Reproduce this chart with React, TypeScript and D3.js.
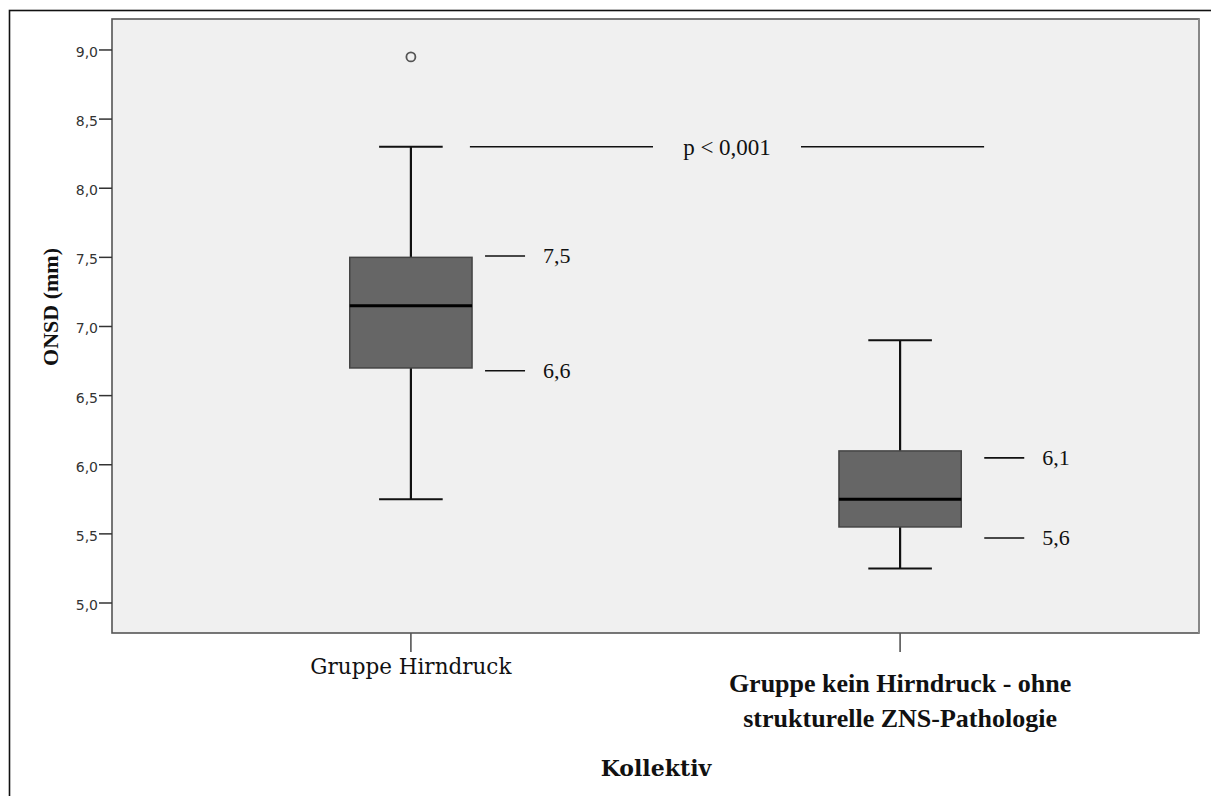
import React from "react";
import * as d3 from "d3";

// Groups compared
const categories = ["Gruppe Hirndruck", "Gruppe kein Hirndruck - ohne strukturelle ZNS-Pathologie"];
const categoryLines = [["Gruppe Hirndruck"], ["Gruppe kein Hirndruck - ohne", "strukturelle ZNS-Pathologie"]];

// Box plot statistics (ONSD in mm)
const whiskerLow = [5.75, 5.25];
const q1 = [6.7, 5.55];
const median = [7.15, 5.75];
const q3 = [7.5, 6.1];
const whiskerHigh = [8.3, 6.9];
const outliers = [[8.95], []];

// Quartile annotations beside each box
const annoLabels = [["7,5", "6,6"], ["6,1", "5,6"]];
const annoValues = [[7.51, 6.68], [6.05, 5.47]];

// Y axis ticks
const yTicks = [5.0, 5.5, 6.0, 6.5, 7.0, 7.5, 8.0, 8.5, 9.0];
const pLabel = "p < 0,001";
const pLevel = 8.3;

const W = 1211;
const H = 796;
const plot = { left: 112, top: 19, right: 1199, bottom: 633 };

export default function App() {
  const y = d3.scaleLinear().domain([4.783, 9.224]).range([plot.bottom, plot.top]);
  const x = d3.scalePoint<string>().domain(categories).range([plot.left, plot.right]).padding(0.611);
  const step = x.step();
  const boxW = step * 0.25;
  const capW = boxW * 0.52;
  const fmt = (v: number) => d3.format(".1f")(v).replace(".", ",");
  const annoShift = [0, 10];

  const x0 = x(categories[0])!;
  const x1 = x(categories[1])!;
  const pStart = x0 + 59;
  const pEnd = x1 + 84;
  const pMid = (pStart + pEnd) / 2;
  const pGap = 74;

  return (
    <svg
      width={W}
      height={H}
      style={{ position: "absolute", left: 0, top: 0, display: "block", background: "#fff" }}
    >
      {/* outer frame */}
      <rect x={9.5} y={10.5} width={W + 20} height={H + 20} fill="none" stroke="#111" strokeWidth={1.6} />

      {/* plot area */}
      <rect
        x={plot.left}
        y={plot.top}
        width={plot.right - plot.left}
        height={plot.bottom - plot.top}
        fill="#f0f0f0"
        stroke="#555"
        strokeWidth={1.6}
      />
      <line x1={plot.right} x2={plot.right} y1={plot.top} y2={plot.bottom} stroke="#888" strokeWidth={2} />

      {/* y axis ticks */}
      {yTicks.map((t) => (
        <g key={t}>
          <line x1={plot.left - 13} x2={plot.left} y1={y(t)} y2={y(t)} stroke="#333" strokeWidth={1.5} />
          <text
            x={plot.left - 14}
            y={y(t) + 7}
            textAnchor="end"
            fontFamily="DejaVu Sans, sans-serif"
            fontSize={14}
            fill="#333"
          >
            {fmt(t)}
          </text>
        </g>
      ))}

      {/* x axis ticks and labels */}
      {categories.map((c, i) => (
        <g key={c}>
          <line x1={x(c)!} x2={x(c)!} y1={plot.bottom} y2={plot.bottom + 19} stroke="#555" strokeWidth={1.6} />
          {categoryLines[i].map((ln, j) => (
            <text
              key={j}
              x={x(c)!}
              y={i === 0 ? 674 : 692 + j * 35}
              textAnchor="middle"
              fontFamily={i === 0 ? "DejaVu Serif, serif" : "Liberation Serif, serif"}
              fontWeight={i === 0 ? "normal" : "bold"}
              fontSize={i === 0 ? 21.5 : 26}
              fill="#111"
            >
              {ln}
            </text>
          ))}
        </g>
      ))}

      {/* axis titles */}
      <text
        x={656}
        y={776}
        textAnchor="middle"
        fontFamily="DejaVu Serif, serif"
        fontWeight="bold"
        fontSize={22}
        fill="#111"
      >
        Kollektiv
      </text>
      <text
        transform={`translate(58, 307) rotate(-90)`}
        textAnchor="middle"
        fontFamily="Liberation Serif, serif"
        fontWeight="bold"
        fontSize={22}
        fill="#111"
      >
        ONSD (mm)
      </text>

      {/* boxes */}
      {categories.map((c, i) => {
        const cx = x(c)!;
        return (
          <g key={c}>
            <line x1={cx} x2={cx} y1={y(whiskerHigh[i])} y2={y(q3[i])} stroke="#111" strokeWidth={2.2} />
            <line x1={cx} x2={cx} y1={y(q1[i])} y2={y(whiskerLow[i])} stroke="#111" strokeWidth={2.2} />
            <line
              x1={cx - capW / 2}
              x2={cx + capW / 2}
              y1={y(whiskerHigh[i])}
              y2={y(whiskerHigh[i])}
              stroke="#111"
              strokeWidth={2}
            />
            <line
              x1={cx - capW / 2}
              x2={cx + capW / 2}
              y1={y(whiskerLow[i])}
              y2={y(whiskerLow[i])}
              stroke="#111"
              strokeWidth={2}
            />
            <rect
              x={cx - boxW / 2}
              y={y(q3[i])}
              width={boxW}
              height={y(q1[i]) - y(q3[i])}
              fill="#666"
              stroke="#444"
              strokeWidth={1.5}
            />
            <line
              x1={cx - boxW / 2}
              x2={cx + boxW / 2}
              y1={y(median[i])}
              y2={y(median[i])}
              stroke="#000"
              strokeWidth={3}
            />
            {outliers[i].map((o, k) => (
              <circle key={k} cx={cx} cy={y(o)} r={4.5} fill="#f0f0f0" stroke="#555" strokeWidth={1.8} />
            ))}
            {annoLabels[i].map((lab, k) => {
              const ay = y(annoValues[i][k]);
              const lx = cx + boxW / 2 + 13 + annoShift[i];
              return (
                <g key={lab}>
                  <line x1={lx} x2={lx + 40} y1={ay} y2={ay} stroke="#111" strokeWidth={1.6} />
                  <text
                    x={lx + 58}
                    y={ay + 7}
                    fontFamily="Liberation Serif, serif"
                    fontSize={22}
                    fill="#111"
                  >
                    {lab}
                  </text>
                </g>
              );
            })}
          </g>
        );
      })}

      {/* significance marker */}
      <line x1={pStart} x2={pMid - pGap} y1={y(pLevel)} y2={y(pLevel)} stroke="#111" strokeWidth={1.6} />
      <line x1={pMid + pGap} x2={pEnd} y1={y(pLevel)} y2={y(pLevel)} stroke="#111" strokeWidth={1.6} />
      <text
        x={pMid}
        y={y(pLevel) + 8}
        textAnchor="middle"
        fontFamily="Liberation Serif, serif"
        fontSize={23}
        fill="#111"
      >
        {pLabel}
      </text>
    </svg>
  );
}
